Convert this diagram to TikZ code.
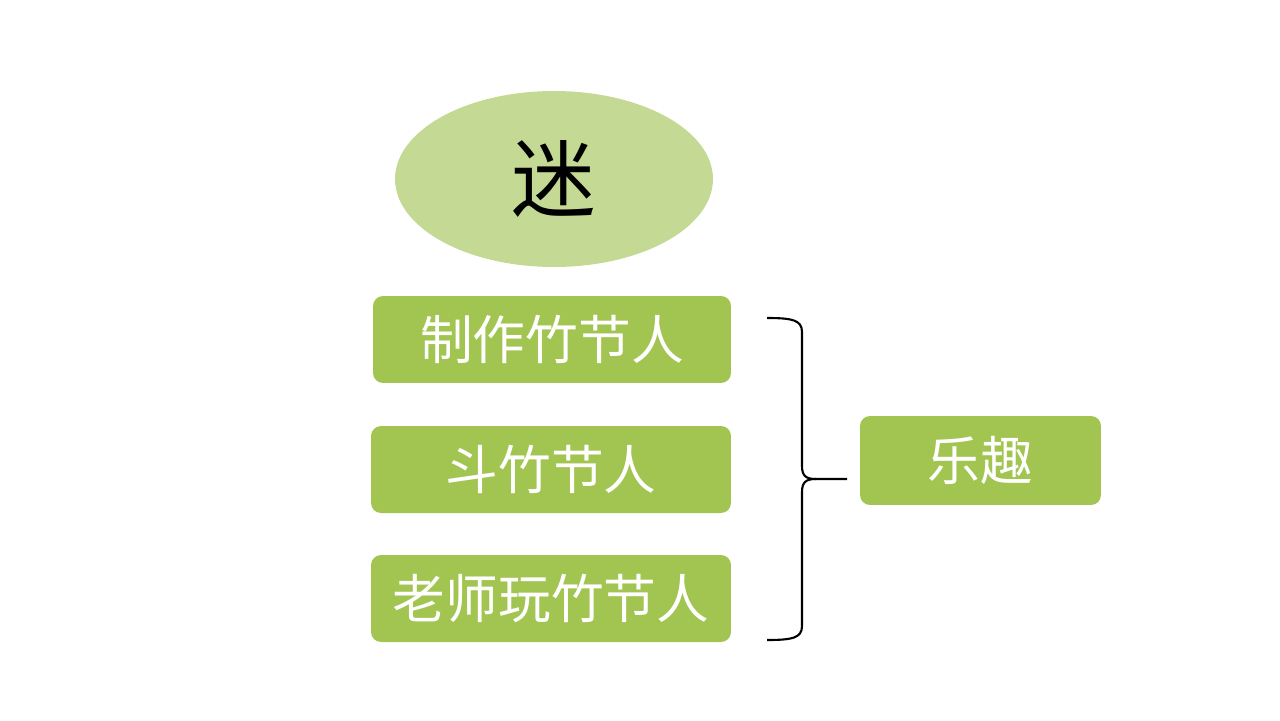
\documentclass[tikz,border=0pt]{standalone}
\usepackage{xcolor}
\usepackage{fontspec}
\usetikzlibrary{shapes.geometric}
\newfontfamily\cjk{Noto Sans CJK SC}
\definecolor{ellgreen}{HTML}{C4D994}
\definecolor{boxgreen}{HTML}{A2C450}

\begin{document}
\begin{tikzpicture}[x=0.02cm, y=-0.02cm,
	box/.style={fill=boxgreen, rounded corners=0.2cm, text=white, inner sep=0pt,
		minimum height=1.74cm, font=\cjk\fontsize{30}{36}\selectfont}]
			\useasboundingbox (0,0) rectangle (1280,720);
			\node[ellipse, fill=ellgreen, minimum width=6.36cm, minimum height=3.52cm, inner sep=0pt,
				font=\cjk\fontsize{48}{56}\selectfont](mi) at (554,179){迷};
			\node[box, minimum width=7.16cm](zhizuo) at (552,339.5){制作竹节人};
			\node[box, minimum width=7.2cm](dou) at (551,469.5){斗竹节人};
			\node[box, minimum width=7.2cm](laoshi) at (551,598.5){老师玩竹节人};
			\node[box, minimum width=4.82cm, minimum height=1.78cm](lequ) at (980.5,460.5){乐趣};
			% brace
			\coordinate (tip) at (847,479);
			\draw[line width=1.2pt](767,318) .. controls (792,318) and (802,320) .. (802,332)--(802,466)
				.. controls (802,476) and (806,479) .. (816,479)--(tip);
			\draw[line width=1.2pt](767,640) .. controls (792,640) and (802,638) .. (802,626)--(802,492)
				.. controls (802,482) and (806,479) .. (816,479);
		\end{tikzpicture}
\end{document}
